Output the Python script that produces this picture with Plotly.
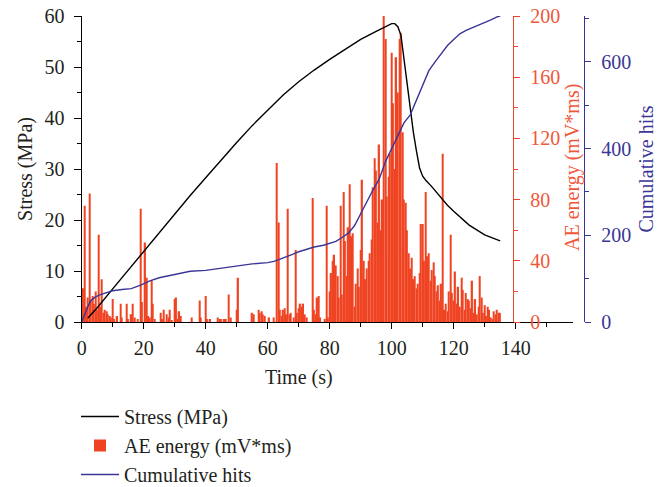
import plotly.graph_objects as go

W, H = 657, 487

# ---------------- data ----------------
stress_time = [2, 5, 10, 15, 20, 25, 30, 35, 40, 45, 50, 55, 60, 65, 70, 75, 80, 85, 90, 95,
               98, 100, 101, 102, 103, 104, 105, 106, 107, 108, 109, 110, 111, 113, 115, 118,
               120, 125, 130, 135]
stress_mpa = [0.8, 2.8, 6.5, 10.2, 13.8, 17.5, 21.2, 24.8, 28.3, 31.8, 35.2, 38.5, 41.6, 44.5,
              47.1, 49.4, 51.5, 53.5, 55.4, 57.0, 58.0, 58.5, 58.5, 57.9, 56.2, 51.5, 46.0, 41.3,
              37.2, 33.5, 30.2, 28.6, 27.8, 26.5, 25.0, 22.9, 21.7, 19.0, 17.1, 15.9]

ae_start = 0.0
ae_step = 0.5
ae_energy = [
    6, 22, 76, 10, 16, 84, 14, 17, 12, 20,
    8, 57, 10, 28, 6, 8, 7, 5, 4, 3,
    15, 2, 0, 4, 0, 12, 3, 0, 0, 12,
    2, 0, 5, 12, 3, 0, 2, 0, 74, 13,
    0, 52, 29, 4, 3, 27, 12, 2, 0, 0,
    0, 6, 2, 8, 0, 5, 3, 8, 1, 0,
    15, 16, 2, 7, 4, 0, 0, 0, 0, 0,
    0, 3, 0, 0, 0, 0, 14, 3, 0, 0,
    17, 2, 0, 2, 0, 0, 0, 0, 3, 2,
    2, 0, 2, 2, 0, 18, 3, 0, 0, 0,
    8, 29, 0, 0, 0, 0, 0, 0, 0, 0,
    6, 5, 0, 0, 8, 6, 7, 5, 4, 0,
    0, 3, 0, 0, 3, 0, 104, 65, 8, 4,
    8, 9, 5, 74, 5, 6, 0, 3, 47, 6,
    9, 12, 10, 12, 5, 3, 0, 0, 0, 81,
    8, 5, 16, 17, 3, 0, 0, 2, 76, 3,
    20, 32, 40, 44, 37, 30, 16, 76, 18, 85,
    53, 30, 62, 90, 56, 58, 10, 25, 35, 23,
    47, 93, 40, 28, 35, 40, 45, 54, 88, 107,
    99, 65, 116, 60, 80, 200, 185, 82, 95, 110,
    176, 143, 100, 173, 150, 185, 189, 124, 80, 78,
    60, 45, 35, 42, 28, 30, 22, 25, 32, 64,
    64, 40, 85, 43, 45, 27, 34, 39, 30, 20,
    24, 14, 25, 110, 8, 12, 7, 20, 57, 19,
    14, 33, 12, 23, 10, 29, 21, 8, 19, 15,
    14, 9, 27, 6, 15, 5, 10, 30, 16, 6,
    11, 4, 10, 8, 3, 2, 7, 5, 8, 6,
    6,
]

hits_time = [0, 1, 2, 3, 4.5, 6, 8, 10, 13, 16, 19, 22, 25, 30, 35, 40, 45, 50, 55, 60, 62,
             64, 66, 68, 70, 72, 75, 78, 80, 82, 84, 86, 88, 90, 92, 94, 96, 98, 100, 102,
             104, 106, 108, 110, 112, 114, 116, 118, 120, 122, 124, 126, 128, 130, 132, 134, 135]
hits_cum = [0, 20, 36, 50, 58, 63, 68, 72, 75, 77, 85, 95, 102, 110, 117, 119, 124, 130, 134,
            137, 140, 145, 150, 156, 162, 167, 173, 177, 181, 186, 195, 205, 222, 250, 280,
            305, 330, 370, 400, 432, 460, 478, 513, 545, 580, 600, 618, 638, 652, 665, 673,
            679, 684, 691, 697, 704, 706]

# ---------------- style ----------------
RED = "#ef4423"
RED_TXT = "#f0573a"
BLUE = "#3b3696"
INK = "#231f20"
FONT = "Liberation Serif"
FS = 20

def fx(p):
    return p / W

def fy(p):
    return 1 - p / H

x_dom = [fx(81.7), fx(573)]
y_dom = [fy(322), fy(16)]

fig = go.Figure()
fig.add_trace(go.Bar(
    x0=ae_start, dx=ae_step, y=ae_energy, name="AE energy (mV*ms)",
    marker=dict(color=RED, line=dict(width=0)), yaxis="y", legendrank=2,
))
fig.add_trace(go.Scatter(
    x=stress_time, y=stress_mpa, mode="lines", name="Stress (MPa)",
    line=dict(color="black", width=1.4), yaxis="y2", legendrank=1,
))
fig.add_trace(go.Scatter(
    x=hits_time, y=hits_cum, mode="lines", name="Cumulative hits",
    line=dict(color=BLUE, width=1.4), yaxis="y3", legendrank=3,
))

tf = dict(family=FONT, size=FS, color=INK)

fig.update_layout(
    width=W, height=H,
    margin=dict(l=0, r=0, t=0, b=0, autoexpand=False),
    template="none",
    paper_bgcolor="white", plot_bgcolor="white",
    bargap=0.12,
    font=dict(family=FONT, size=FS, color=INK),
    xaxis=dict(
        domain=x_dom, range=[0, 158.5], anchor="y",
        tick0=0, dtick=20, ticks="outside", ticklen=6, tickwidth=1.3, tickcolor="black",
        minor=dict(dtick=10, ticks="outside", ticklen=4, tickwidth=1.3, tickcolor="black"),
        showline=True, linecolor="black", linewidth=1.3,
        showgrid=False, zeroline=False, tickfont=tf, ticklabelstandoff=2,
    ),
    yaxis=dict(
        domain=y_dom, range=[0, 200], side="right", anchor="free", position=fx(513),
        tick0=0, dtick=40, ticks="outside", ticklen=6, tickwidth=1.3, tickcolor=RED,
        minor=dict(dtick=20, ticks="outside", ticklen=4, tickwidth=1.3, tickcolor=RED),
        showline=True, linecolor=RED, linewidth=1.3,
        showgrid=False, zeroline=False,
        tickfont=dict(family=FONT, size=FS, color=RED_TXT), ticklabelstandoff=6,
    ),
    yaxis2=dict(
        domain=y_dom, range=[0, 60], side="left", anchor="x", overlaying="y",
        tick0=0, dtick=10, ticks="outside", ticklen=7, tickwidth=1.3, tickcolor="black",
        minor=dict(dtick=5, ticks="outside", ticklen=4, tickwidth=1.3, tickcolor="black"),
        showline=True, linecolor="black", linewidth=1.3,
        showgrid=False, zeroline=False, tickfont=tf, ticklabelstandoff=5,
        title=dict(text="Stress (MPa)", font=tf, standoff=6),
    ),
    yaxis3=dict(
        domain=y_dom, range=[0, 706], side="right", anchor="free", position=fx(584),
        overlaying="y",
        tick0=0, dtick=200, ticks="outside", ticklen=6, tickwidth=1.3, tickcolor=BLUE,
        minor=dict(dtick=100, ticks="outside", ticklen=4, tickwidth=1.3, tickcolor=BLUE),
        showline=True, linecolor=BLUE, linewidth=1.3,
        showgrid=False, zeroline=False,
        tickfont=dict(family=FONT, size=FS, color=BLUE), ticklabelstandoff=6,
        title=dict(text="Cumulative hits", font=dict(family=FONT, size=FS, color=BLUE), standoff=8),
    ),
    legend=dict(
        x=fx(76), y=fy(397), xanchor="left", yanchor="top",
        orientation="v", font=dict(family=FONT, size=FS, color=INK),
        bgcolor="rgba(0,0,0,0)", itemwidth=38, tracegroupgap=0,
    ),
    showlegend=True,
    annotations=[
        dict(text="Time (s)", xref="x", yref="paper", x=70, y=fy(377),
             xanchor="center", yanchor="middle", showarrow=False, font=tf),
        dict(text="AE energy (mV*ms)", xref="paper", yref="paper", x=fx(572), y=fy(168),
             xanchor="center", yanchor="middle", textangle=-90, showarrow=False,
             font=dict(family=FONT, size=FS, color=RED_TXT)),
    ],
)

fig.write_html("out.html", config={"displayModeBar": False},
               post_script="document.body.style.margin='0px';")
